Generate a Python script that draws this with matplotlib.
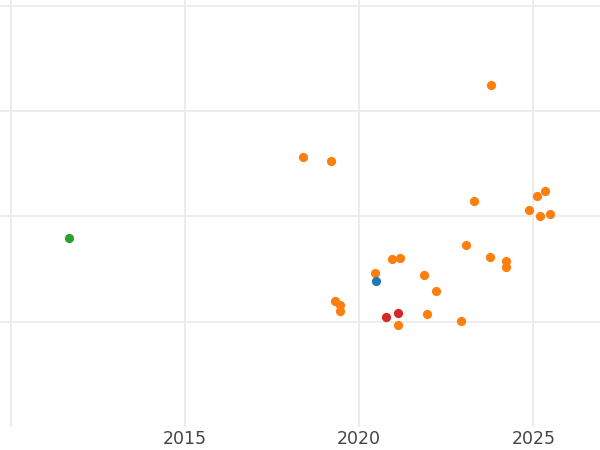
"""
Scatter of values by year, grouped by category
"""
import matplotlib
matplotlib.use('Agg')
import matplotlib.pyplot as plt

# Data (year, value) per group
orange_years = [2023.79, 2018.39, 2019.19, 2023.31, 2025.10, 2025.34, 2024.87,
                2025.20, 2025.49, 2023.08, 2023.76, 2024.21, 2024.21, 2020.94,
                2021.16, 2020.46, 2021.85, 2022.21, 2019.31, 2019.45, 2019.45,
                2021.94, 2021.12, 2022.92]
orange_values = [3.248, 2.564, 2.526, 2.146, 2.197, 2.244, 2.064,
                 2.004, 2.026, 1.728, 1.614, 1.579, 1.517, 1.595,
                 1.605, 1.465, 1.446, 1.289, 1.199, 1.161, 1.104,
                 1.076, 0.966, 1.009]
green_years = [2011.67]
green_values = [1.795]
blue_years = [2020.48]
blue_values = [1.387]
red_years = [2020.76, 2021.11]
red_values = [1.045, 1.080]

x_ticks = [2010, 2015, 2020, 2025]
x_tick_labels = ['', '2015', '2020', '2025']
y_ticks = [1, 2, 3, 4]

fig = plt.figure(figsize=(6, 4.5), dpi=100)
ax = fig.add_axes([0, 23 / 450, 1, 427 / 450])

groups = [
    (orange_years, orange_values, '#ff7f0e'),
    (green_years, green_values, '#2ca02c'),
    (blue_years, blue_values, '#1f77b4'),
    (red_years, red_values, '#d62728'),
]
for xs, ys, color in groups:
    ax.scatter(xs, ys, s=44, color=color, linewidths=0, zorder=3)

ax.set_xlim(2009.69, 2026.915)
ax.set_ylim(0, 4.055)
ax.set_xticks(x_ticks)
ax.set_xticklabels(x_tick_labels)
ax.set_yticks(y_ticks)
ax.set_yticklabels([])
ax.grid(True, color='#ebebeb', linewidth=1.3, zorder=0)
ax.tick_params(axis='both', length=0, labelsize=12.5, labelcolor='#444444', pad=2.5)
for spine in ax.spines.values():
    spine.set_visible(False)

plt.savefig('out.png', dpi=100)
